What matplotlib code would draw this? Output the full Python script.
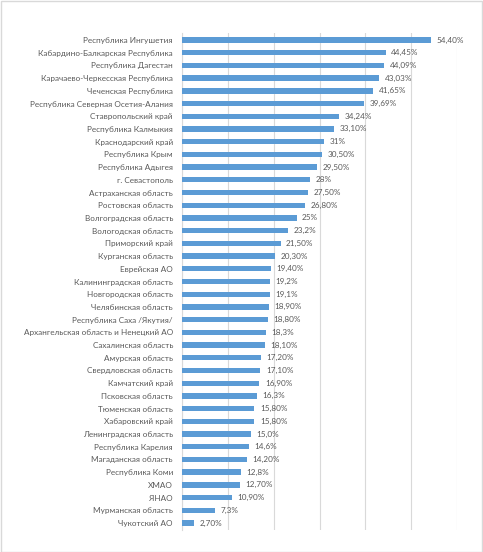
import matplotlib
matplotlib.use("Agg")
import matplotlib.pyplot as plt
from matplotlib.patches import Rectangle

regions = [
    "Республика Ингушетия", "Кабардино-Балкарская Республика", "Республика Дагестан",
    "Карачаево-Черкесская Республика", "Чеченская Республика",
    "Республика Северная Осетия-Алания", "Ставропольский край", "Республика Калмыкия",
    "Краснодарский край", "Республика Крым", "Республика Адыгея", "г. Севастополь",
    "Астраханская область", "Ростовская область", "Волгоградская область",
    "Вологодская область", "Приморский край", "Курганская область", "Еврейская АО",
    "Калининградская область", "Новгородская область", "Челябинская область",
    "Республика Саха /Якутия/", "Архангельская область и Ненецкий АО",
    "Сахалинская область", "Амурская область", "Свердловская область",
    "Камчатский край", "Псковская область", "Тюменская область", "Хабаровский край",
    "Ленинградская область", "Республика Карелия", "Магаданская область",
    "Республика Коми", "ХМАО", "ЯНАО", "Мурманская область", "Чукотский АО",
]
values = [
    54.40, 44.45, 44.09, 43.03, 41.65, 39.69, 34.24, 33.10, 31.0, 30.50, 29.50, 28.0,
    27.50, 26.80, 25.0, 23.2, 21.50, 20.30, 19.40, 19.2, 19.1, 18.90, 18.80, 18.3,
    18.10, 17.20, 17.10, 16.90, 16.3, 15.80, 15.80, 15.0, 14.6, 14.20, 12.8, 12.70,
    10.90, 7.3, 2.70,
]
value_labels = [
    "54,40%", "44,45%", "44,09%", "43,03%", "41,65%", "39,69%", "34,24%", "33,10%",
    "31%", "30,50%", "29,50%", "28%", "27,50%", "26,80%", "25%", "23,2%", "21,50%",
    "20,30%", "19,40%", "19,2%", "19,1%", "18,90%", "18,80%", "18,3%", "18,10%",
    "17,20%", "17,10%", "16,90%", "16,3%", "15,80%", "15,80%", "15,0%", "14,6%",
    "14,20%", "12,8%", "12,70%", "10,90%", "7,3%", "2,70%",
]
x_ticks = [0, 10, 20, 30, 40, 50, 60]

W, H = 483, 552
fig = plt.figure(figsize=(W / 100, H / 100), dpi=100)
fig.patch.set_facecolor("white")
fig.add_artist(Rectangle((0.5 / W, 0.5 / H), 1 - 1.5 / W, 1 - 1.5 / H,
                         transform=fig.transFigure, fill=False,
                         edgecolor="#D9D9D9", linewidth=1.0))

ax = fig.add_axes([182 / W, 22 / H, (457 - 182) / W, (530 - 33) / H])
pos = list(range(len(regions)))
ax.barh(pos, values, height=0.42, color="#5B9BD5", zorder=3)
ax.set_ylim(len(regions) - 0.45, -0.55)
ax.set_xlim(0, 60)
ax.set_xticks(x_ticks)
ax.set_xticklabels([])
ax.tick_params(axis="x", length=0)
ax.tick_params(axis="y", length=0, pad=6.5)
ax.set_yticks(pos)
ax.set_yticklabels(regions, fontsize=5.9, color="#595959", family="Lato")
ax.grid(axis="x", color="#D9D9D9", linewidth=0.8, zorder=0)
for s in ["top", "right", "bottom"]:
    ax.spines[s].set_visible(False)
ax.spines["left"].set_color("#D9D9D9")
ax.spines["left"].set_linewidth(0.8)

for p, v, lab in zip(pos, values, value_labels):
    ax.annotate(lab, (v, p), xytext=(4, 0), textcoords="offset points",
                va="center", ha="left", fontsize=5.9, color="#595959",
                family="Lato")

fig.savefig("out.png", dpi=100)
